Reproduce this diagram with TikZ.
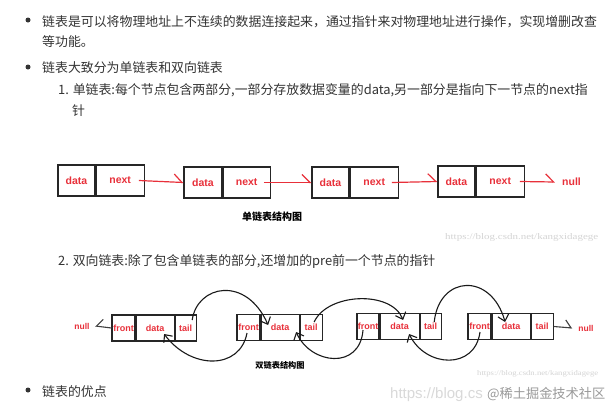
\documentclass[tikz,border=0pt]{standalone}
\usepackage{fontspec}
\setmainfont{Liberation Sans}
\newfontfamily\cjk{Noto Sans CJK SC}
\newfontfamily\markfont{Liberation Serif}
\usepackage{graphicx}
\usepackage{xcolor}
\usepackage{tikz}
\usetikzlibrary{calc,positioning,arrows.meta}

\definecolor{bodytext}{HTML}{333333}
\definecolor{linkred}{HTML}{E8303A}
\definecolor{markgray}{HTML}{D4D4D4}

\tikzset{
  cell/.style={draw=black!85, line width=1.2pt, minimum height=31pt, inner sep=0pt,
    text=linkred, font=\bfseries\fontsize{10.5}{10.5}\selectfont},
  dcell/.style={draw=black!85, line width=1.1pt, minimum height=26pt, inner sep=0pt,
    text=linkred, font=\bfseries\fontsize{9}{9}\selectfont},
  nulltext/.style={inner sep=0pt, text=linkred, font=\bfseries\fontsize{8.5}{8.5}\selectfont},
  bodyline/.style={anchor=base west, inner sep=0pt, text=bodytext, font=\cjk\fontsize{12.9}{12.9}\selectfont},
  bullet/.style={circle, fill=bodytext, inner sep=0pt, minimum size=5pt},
  caption/.style={inner sep=0pt, font=\cjk\bfseries\fontsize{10}{10}\selectfont},
  watermark/.style={anchor=west, inner sep=0pt, text=markgray},
  nextarrow/.style={linkred, line width=1.2pt, -{Straight Barb[harpoon,length=8pt,width=16pt]}},
  backarrow/.style={black!90, line width=1.1pt, -{Straight Barb[length=6pt,width=11pt]}},
  nullarrow/.style={black!75, line width=1.1pt, -{Straight Barb[harpoon,length=6pt,width=15pt]}},
}

\begin{document}
\begin{tikzpicture}[x=1pt,y=-1pt]
  % Page frame
  \fill[white] (0,0) rectangle (613,415);
  \useasboundingbox (0,0) rectangle (613,415);

  % Text lines of the page
  \node[bullet] (B1) at (28,20) {};
  \node[bodyline] (L1) at (42,26) {链表是可以将物理地址上不连续的数据连接起来，通过指针来对物理地址进行操作，实现增删改查};
  \node[bodyline] (L2) at (42,46) {等功能。};
  \node[bullet] (B2) at (28,67) {};
  \node[bodyline] (L3) at (42,72) {链表大致分为单链表和双向链表};
  \node[bodyline] (L4) at (58,94) {1. 单链表:每个节点包含两部分,一部分存放数据变量的data,另一部分是指向下一节点的next指};
  \node[bodyline] (L5) at (72,115) {针};
  \node[bodyline] (L6) at (58,265) {2. 双向链表:除了包含单链表的部分,还增加的pre前一个节点的指针};
  \node[bullet] (B3) at (28,390) {};
  \node[bodyline] (L7) at (42,396) {链表的优点};

  % Singly linked list
  \node[cell, minimum width=37pt] (D1) at (76.5,180.5) {data};
  \node[cell, minimum width=48pt, right=0pt of D1] (N1) {next};
  \node[cell, minimum width=38pt] (D2) at (203,182.5) {data};
  \node[cell, minimum width=47pt, right=0pt of D2] (N2) {next};
  \node[cell, minimum width=37pt] (D3) at (330.5,182.5) {data};
  \node[cell, minimum width=48pt, right=0pt of D3] (N3) {next};
  \node[cell, minimum width=37pt] (D4) at (456.5,181.5) {data};
  \node[cell, minimum width=48pt, right=0pt of D4] (N4) {next};
  \node[nulltext, font=\bfseries\fontsize{10.5}{10.5}\selectfont] (Null1) at (571.5,182) {null};

  \draw[nextarrow] ([xshift=-6pt]N1.east) -- (D2.west);
  \draw[nextarrow] ([xshift=-7pt]N2.east) -- (D3.west);
  \draw[nextarrow] ([xshift=-7pt]N3.east) -- (D4.west);
  \draw[nextarrow] ([xshift=-5pt]N4.east) -- ([xshift=-7pt]Null1.west);

  \node[caption] (Cap1) at (272,217) {单链表结构图};

  % Doubly linked list
  \node[dcell, minimum width=23pt] (FA) at (123.5,328) {front};
  \node[dcell, minimum width=38pt, right=0pt of FA] (DA) {data};
  \node[dcell, minimum width=21pt, right=0pt of DA] (TA) {tail};
  \node[dcell, minimum width=23pt] (FB) at (248.5,327.5) {front};
  \node[dcell, minimum width=38pt, right=0pt of FB] (DB) {data};
  \node[dcell, minimum width=22pt, right=0pt of DB] (TB) {tail};
  \node[dcell, minimum width=22pt] (FC) at (368,326.5) {front};
  \node[dcell, minimum width=39pt, right=0pt of FC] (DC) {data};
  \node[dcell, minimum width=21pt, right=0pt of DC] (TC) {tail};
  \node[dcell, minimum width=23pt] (FD) at (479.5,326.5) {front};
  \node[dcell, minimum width=38pt, right=0pt of FD] (DD) {data};
  \node[dcell, minimum width=22pt, right=0pt of DD] (TD) {tail};
  \node[nulltext] (NullL) at (82,326) {null};
  \node[nulltext] (NullR) at (586,328) {null};

  % next pointers (over the top)
  \draw[backarrow] ([shift={(6.5,-8)}]TA.center) .. controls +(5,-35) and +(-22,-50) .. ([shift={(-12,-2.5)}]DB.center);
  \draw[backarrow] ([shift={(3,-5.5)}]TB.center) .. controls +(13,-29) and +(-12,-30) .. ([shift={(3.5,-6.5)}]DC.center);
  \draw[backarrow] ([shift={(3.5,-4.5)}]TC.center) .. controls +(5,-47) and +(-14,-50) .. ([shift={(-6,-4.5)}]DD.center);

  % pre pointers (underneath)
  \draw[backarrow] ([shift={(-1.5,5.5)}]FB.center) .. controls +(-7,37) and +(27,36) .. ([shift={(9,6)}]DA.center);
  \draw[backarrow] ([shift={(-5,3.5)}]FC.center) .. controls +(-3,40) and +(15,33) .. ([shift={(16,4.5)}]DB.center);
  \draw[backarrow] ([shift={(0.5,5.5)}]FD.center) .. controls +(-5,38) and +(17,34) .. ([shift={(9.5,7.5)}]DC.center);

  % null ends
  \draw[nullarrow, -{Straight Barb[harpoon,swap,length=6pt,width=15pt]}] (FA.west) -- ([xshift=5.5pt]NullL.east);
  \draw[nullarrow] (TD.east) -- ([xshift=-6pt]NullR.west);

  \node[caption, font=\cjk\bfseries\fontsize{8.2}{8.2}\selectfont] (Cap2) at (280,365) {双链表结构图};

  % Watermarks
  \node[watermark] (W1) at (445,237) {\resizebox{153pt}{6pt}{\markfont https://blog.csdn.net/kangxidagege}};
  \node[watermark] (W2) at (477,374) {\resizebox{121pt}{5pt}{\markfont https://blog.csdn.net/kangxidagege}};
  \node[watermark, text=black!15, font=\fontsize{15}{15}\selectfont] (W3) at (390,395) {https://blog.cs};
  \node[watermark, text=black!40, font=\cjk\fontsize{13.2}{13.2}\selectfont] (W4) at (487,394) {@稀土掘金技术社区};
\end{tikzpicture}
\end{document}
